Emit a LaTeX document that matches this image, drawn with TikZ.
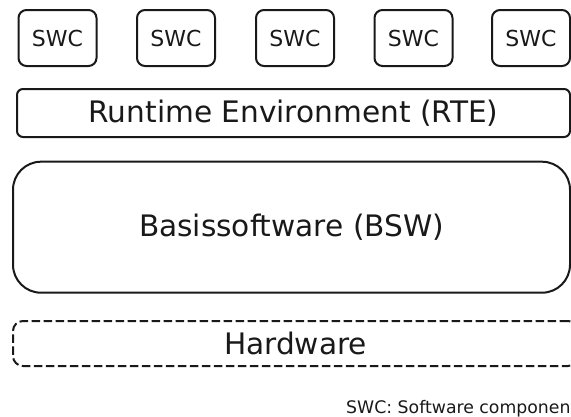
\documentclass[tikz,border=0pt]{standalone}
\usepackage{fontspec}
\setmainfont{DejaVu Sans}
\begin{document}
\begin{tikzpicture}[x=1pt,y=-1pt,
  layer/.style={draw=black!90, line width=2pt, inner sep=0pt, text=black!90},
  swcbox/.style={layer, rounded corners=8pt, minimum width=78pt, minimum height=56pt,
    font=\fontsize{22}{26}\selectfont},
  bigtext/.style={font=\fontsize{29.6}{34}\selectfont},
  hwbox/.style={layer, rounded corners=10pt, dash pattern=on 8.5pt off 3.5pt}]
\useasboundingbox (0,0) rectangle (571,416);
\clip (0,0) rectangle (571,416);

% software components
\node[swcbox] (swc1) at (57.5,38) {SWC};
\node[swcbox] (swc2) at (176,38) {SWC};
\node[swcbox] (swc3) at (295,38) {SWC};
\node[swcbox] (swc4) at (413.5,38) {SWC};
\node[swcbox] (swc5) at (531,38) {SWC};

% runtime environment
\node[layer, bigtext, rounded corners=6pt, minimum width=553pt, minimum height=48pt]
  (rte) at (293.5,113) {Runtime Environment (RTE)};

% basic software
\node[layer, bigtext, rounded corners=28pt, minimum width=557pt, minimum height=131pt]
  (bsw) at (291.5,227.2) {Basissoftware (BSW)};

% hardware, dashed
\node[hwbox, bigtext, minimum width=565pt, minimum height=45pt]
  (hw) at (295.5,343.5) {Hardware};

% legend
\node[anchor=base west, inner sep=0pt, text=black!90, font=\fontsize{17.3}{20}\selectfont]
  (legend) at (346,413.3) {SWC: Software components};
\end{tikzpicture}
\end{document}
